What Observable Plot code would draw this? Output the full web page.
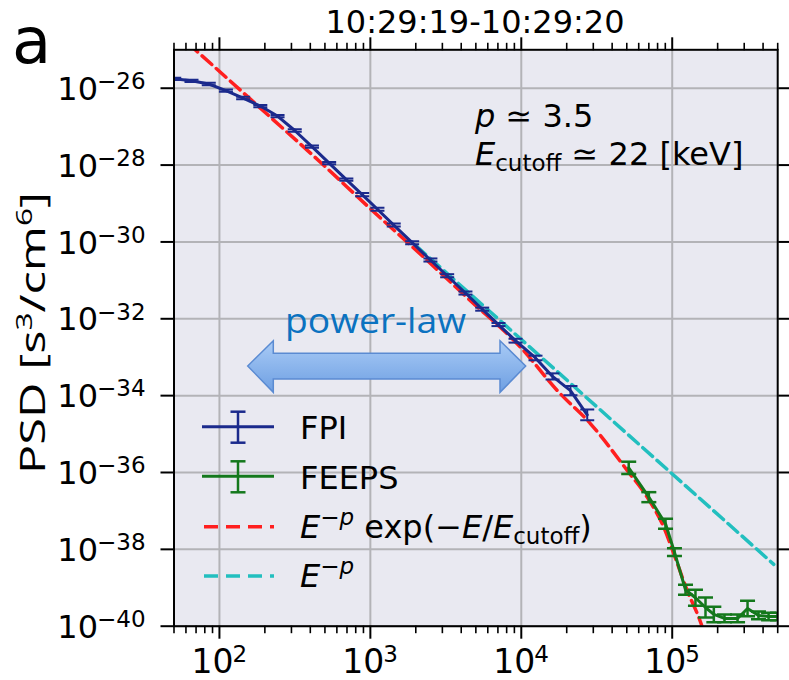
<!DOCTYPE html>
<html><head><meta charset="utf-8">
<script src="https://cdn.jsdelivr.net/npm/d3@7"></script>
<script src="https://cdn.jsdelivr.net/npm/@observablehq/plot@0.6"></script>
<style>
body{margin:0;background:#fff;}
#chart svg{display:block;}
</style></head><body><div id="chart"></div>
<script>
// ---- data ----
const fpiEnergy = [38.7, 50.2, 65.3, 85.0, 110.4, 143.6, 186.6, 242.7, 315.5, 410.3, 533.4, 693.4, 883.0, 1114, 1429, 1892, 2500, 3228, 4266, 5508, 7063, 9158, 12420, 16110, 21180, 27350];
const fpiPSD = [1.88e-26, 1.76e-26, 1.56e-26, 1.29e-26, 8.71e-27, 5.56e-27, 3.44e-27, 1.89e-27, 7.94e-28, 3.02e-28, 1.12e-28, 4.17e-29, 1.70e-29, 7.08e-30, 2.75e-30, 9.55e-31, 3.39e-31, 1.32e-31, 4.68e-32, 1.78e-32, 7.08e-33, 2.69e-33, 9.55e-34, 3.16e-34, 1.35e-34, 3.16e-35];
const fpiErrDex = [0.03, 0.03, 0.03, 0.03, 0.03, 0.03, 0.03, 0.03, 0.03, 0.03, 0.03, 0.03, 0.04, 0.04, 0.04, 0.04, 0.04, 0.04, 0.04, 0.04, 0.04, 0.05, 0.06, 0.08, 0.12, 0.14];

const feepsEnergy = [51500, 70000, 90300, 103500, 122500, 142600, 166200, 188700, 222000, 271000, 315600, 373000, 435000, 499000];
const feepsPSD = [1.32e-36, 2.28e-37, 4.62e-38, 8.43e-39, 8.87e-40, 5.50e-40, 3.07e-40, 2.02e-40, 1.59e-40, 1.59e-40, 2.88e-40, 1.91e-40, 1.79e-40, 1.79e-40];
const feepsErrDex = [0.16, 0.13, 0.13, 0.10, 0.13, 0.21, 0.26, 0.20, 0.10, 0.10, 0.20, 0.10, 0.10, 0.10];

const cutoffFitEnergy = [49.8, 101.5, 217.8, 466.7, 1002, 2148, 4603, 9886, 17300, 28770, 50350, 68230, 87900, 102560, 125600, 154200, 168700];
const cutoffFitPSD = [3.16e-25, 2.61e-26, 1.76e-27, 1.19e-28, 7.28e-30, 4.79e-31, 2.97e-32, 1.82e-33, 1.36e-34, 1.85e-35, 1.13e-36, 2.28e-37, 3.78e-38, 7.66e-39, 8.49e-40, 1.27e-40, 4.26e-41];

const powerFitEnergy = [2000, 471000];
const powerFitPSD = [8.05e-31, 4.07e-39];

const xMajorTicks = [1e2, 1e3, 1e4, 1e5];
const xTickExponents = ["2", "3", "4", "5"];
const xMinorTicks = [50, 60, 70, 80, 90, 200, 300, 400, 500, 600, 700, 800, 900, 2000, 3000, 4000, 5000, 6000, 7000, 8000, 9000, 2e4, 3e4, 4e4, 5e4, 6e4, 7e4, 8e4, 9e4, 2e5, 3e5, 4e5, 5e5];
const yMajorTicks = [1e-26, 1e-28, 1e-30, 1e-32, 1e-34, 1e-36, 1e-38, 1e-40];
const yTickExponents = ["\u221226", "\u221228", "\u221230", "\u221232", "\u221234", "\u221236", "\u221238", "\u221240"];

const titleText = "10:29:19-10:29:20";
const panelLabel = "a";
const legendLabels = ["FPI", "FEEPS"];
const annotationP = "3.5";
const annotationEcut = "22 [keV]";
const arrowLabel = "power-law";

// ---- tables ----
const fpi = fpiEnergy.map((e, i) => ({e, v: fpiPSD[i], lo: fpiPSD[i] / 10 ** fpiErrDex[i], hi: fpiPSD[i] * 10 ** fpiErrDex[i]}));
const feeps = feepsEnergy.map((e, i) => ({e, v: feepsPSD[i], lo: feepsPSD[i] / 10 ** feepsErrDex[i], hi: feepsPSD[i] * 10 ** feepsErrDex[i]}));
const cutoffFit = cutoffFitEnergy.map((e, i) => ({e, v: cutoffFitPSD[i]}));
const powerFit = powerFitEnergy.map((e, i) => ({e, v: powerFitPSD[i]}));

const blue = "#1b2a8c", green = "#14781c", red = "#ff1f1f", cyan = "#22bfbf";
const capSymbol = {draw(ctx, size) { const w = Math.sqrt(size / Math.PI); ctx.moveTo(-w, 0); ctx.lineTo(w, 0); }};

const mathFont = "DejaVu Sans";

const plot = Plot.plot({
  width: 789, height: 680,
  marginLeft: 173.5, marginRight: 11.8, marginTop: 49.3, marginBottom: 54.3,
  x: {type: "log", domain: [50, 5e5], label: null},
  y: {type: "log", domain: [1e-40, 1e-25], label: null},
  style: {fontFamily: mathFont, background: "#fff", color: "#000", overflow: "visible"},
  marks: [
    Plot.frame({fill: "#e9e9f1", stroke: "none"}),
    Plot.gridX({ticks: xMajorTicks, stroke: "#b3b3b7", strokeOpacity: 1, strokeWidth: 2}),
    Plot.gridY({ticks: yMajorTicks, stroke: "#b3b3b7", strokeOpacity: 1, strokeWidth: 2}),
    Plot.line(powerFit, {x: "e", y: "v", stroke: cyan, strokeWidth: 3.5, strokeDasharray: "13,6", clip: true}),
    Plot.line(cutoffFit, {x: "e", y: "v", stroke: red, strokeWidth: 3.5, strokeDasharray: "13,6", curve: "monotone-x", clip: true}),
    Plot.ruleX(fpi, {x: "e", y1: "lo", y2: "hi", stroke: blue, strokeWidth: 2, clip: true}),
    Plot.line(fpi, {x: "e", y: "v", stroke: blue, strokeWidth: 3, clip: true}),
    Plot.dot(fpi, {x: "e", y: "lo", symbol: capSymbol, r: 7, stroke: blue, strokeWidth: 2, fill: "none", clip: true}),
    Plot.dot(fpi, {x: "e", y: "hi", symbol: capSymbol, r: 7, stroke: blue, strokeWidth: 2, fill: "none", clip: true}),
    Plot.ruleX(feeps, {x: "e", y1: "lo", y2: "hi", stroke: green, strokeWidth: 2.5, clip: true}),
    Plot.line(feeps, {x: "e", y: "v", stroke: green, strokeWidth: 3, clip: true}),
    Plot.dot(feeps, {x: "e", y: "lo", symbol: capSymbol, r: 7.5, stroke: green, strokeWidth: 2.5, fill: "none", clip: true}),
    Plot.dot(feeps, {x: "e", y: "hi", symbol: capSymbol, r: 7.5, stroke: green, strokeWidth: 2.5, fill: "none", clip: true}),
    Plot.frame({stroke: "#000", strokeWidth: 2}),
    Plot.axisX({anchor: "bottom", ticks: xMajorTicks, tickSize: 13, tickFormat: () => "", label: null, strokeWidth: 2}),
    Plot.axisX({anchor: "bottom", ticks: xMinorTicks, tickSize: 7.5, tickFormat: () => "", label: null, strokeWidth: 1.6}),
    Plot.axisX({anchor: "top", ticks: xMajorTicks, tickSize: 13, tickFormat: () => "", label: null, strokeWidth: 2}),
    Plot.axisX({anchor: "top", ticks: xMinorTicks, tickSize: 7.5, tickFormat: () => "", label: null, strokeWidth: 1.6}),
    Plot.axisY({anchor: "left", ticks: yMajorTicks, tickSize: 13, tickFormat: () => "", label: null, strokeWidth: 2}),
    Plot.axisY({anchor: "right", ticks: yMajorTicks, tickSize: 13, tickFormat: () => "", label: null, strokeWidth: 2}),
    // tick labels: 10 with superscript exponent
    Plot.text(xMajorTicks, {x: d => d, frameAnchor: "bottom", text: () => "10", textAnchor: "end", lineAnchor: "bottom", dx: 14, dy: 47, fontSize: 33, fill: "#000"}),
    Plot.text(xMajorTicks, {x: d => d, frameAnchor: "bottom", text: (d, i) => xTickExponents[i], textAnchor: "start", lineAnchor: "bottom", dx: 13, dy: 36, fontSize: 23, fill: "#000"}),
    Plot.text(yMajorTicks, {y: d => d, frameAnchor: "left", text: () => "10", textAnchor: "end", lineAnchor: "bottom", dx: -76, dy: 11.6, fontSize: 32, fill: "#000"}),
    Plot.text(yMajorTicks, {y: d => d, frameAnchor: "left", text: (d, i) => yTickExponents[i], textAnchor: "start", lineAnchor: "bottom", dx: -77, dy: 0.8, fontSize: 23, fill: "#000"})
  ]
});
document.getElementById("chart").appendChild(plot);

// ---- annotations ----
const svg = d3.select(plot);
const g = svg.append("g").attr("text-anchor", "start");

function richText(x, y, parts, base) {
  const t = g.append("text").attr("x", x).attr("y", y)
    .attr("font-family", base.family).attr("font-size", base.size)
    .attr("fill", base.fill || "#000").attr("text-anchor", base.anchor || "start").style("white-space", "pre");
  if (base.transform) t.attr("transform", base.transform).attr("x", 0).attr("y", 0);
  let cur = 0;
  for (const p of parts) {
    const s = t.append("tspan").text(p.t);
    const up = p.up || 0;
    if (up !== cur) s.attr("dy", -(up - cur));
    cur = up;
    if (p.size) s.attr("font-size", p.size);
    if (p.it) s.attr("font-style", "italic");
  }
  return t;
}

// title and panel letter
richText(475, 33, [{t: titleText}], {family: mathFont, size: 32, anchor: "middle"});
richText(12, 63, [{t: panelLabel}], {family: mathFont, size: 64});

// y label
const yl = richText(0, 0, [{t: "PSD [s"}, {t: "3", up: 13, size: 22}, {t: "/cm", up: 0}, {t: "6", up: 13, size: 22}, {t: "]", up: 0}],
  {family: "Open Sans", size: 34, anchor: "middle", transform: "translate(45,333) rotate(-90)"});
yl.attr("textLength", 282).attr("lengthAdjust", "spacingAndGlyphs");

// fit parameters
richText(475, 127, [{t: "p", it: true}, {t: " \u2243 " + annotationP}], {family: mathFont, size: 32});
richText(475, 165, [{t: "E", it: true}, {t: "cutoff", up: -6, size: 23}, {t: " \u2243 " + annotationEcut, up: 0}], {family: mathFont, size: 32});

// legend
function errHandle(y, color) {
  g.append("line").attr("x1", 202).attr("x2", 274).attr("y1", y).attr("y2", y).attr("stroke", color).attr("stroke-width", 3);
  g.append("line").attr("x1", 238).attr("x2", 238).attr("y1", y - 15).attr("y2", y + 16).attr("stroke", color).attr("stroke-width", 2.5);
  for (const yy of [y - 15, y + 16]) g.append("line").attr("x1", 230.5).attr("x2", 245.5).attr("y1", yy).attr("y2", yy).attr("stroke", color).attr("stroke-width", 2.5);
}
function dashHandle(y, color) {
  g.append("line").attr("x1", 204).attr("x2", 274).attr("y1", y).attr("y2", y).attr("stroke", color).attr("stroke-width", 3.5).attr("stroke-dasharray", "14,8");
}
errHandle(426.7, blue);
errHandle(476.3, green);
dashHandle(526.7, red);
dashHandle(576, cyan);
richText(300, 439, [{t: legendLabels[0]}], {family: mathFont, size: 32});
richText(300, 488.5, [{t: legendLabels[1]}], {family: mathFont, size: 32});
richText(300, 537.5, [{t: "E", it: true}, {t: "\u2212", up: 13, size: 23}, {t: "p", up: 13, size: 23, it: true}, {t: " exp(\u2212", up: 0}, {t: "E", it: true}, {t: "/"}, {t: "E", it: true}, {t: "cutoff", up: -6, size: 23}, {t: ")", up: 0}], {family: mathFont, size: 32});
richText(300, 587, [{t: "E", it: true}, {t: "\u2212", up: 13, size: 23}, {t: "p", up: 13, size: 23, it: true}], {family: mathFont, size: 32});

// double arrow
const defs = svg.append("defs");
const grad = defs.append("linearGradient").attr("id", "arrowGrad").attr("x1", 0).attr("y1", 0).attr("x2", 0).attr("y2", 1);
grad.append("stop").attr("offset", "0%").attr("stop-color", "#a9cbf6");
grad.append("stop").attr("offset", "100%").attr("stop-color", "#6e9fe2");
g.append("path")
  .attr("d", "M247.7,366 L273.3,340.7 L273.3,353.3 L500,353.3 L500,340.7 L525.7,366 L500,392.3 L500,379 L273.3,379 L273.3,392.3 Z")
  .attr("fill", "url(#arrowGrad)").attr("stroke", "#5b8bd2").attr("stroke-width", 1.5).attr("stroke-linejoin", "miter");
richText(285, 333, [{t: arrowLabel}], {family: "Open Sans", size: 34, fill: "#0b72c0"}).attr("textLength", 181).attr("lengthAdjust", "spacingAndGlyphs");
</script>
</body></html>
